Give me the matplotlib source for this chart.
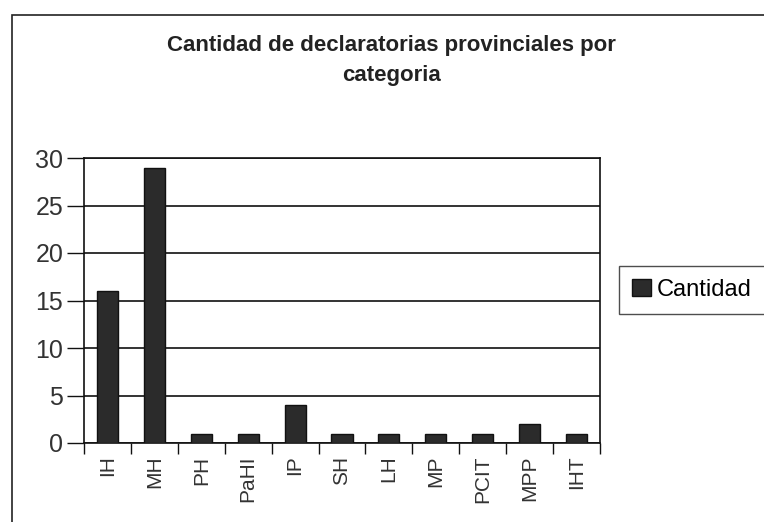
import matplotlib
matplotlib.use("Agg")
import matplotlib.pyplot as plt
from matplotlib.patches import Rectangle

categorias = ["IH", "MH", "PH", "PaHI", "IP", "SH", "LH", "MP", "PCIT", "MPP", "IHT"]
cantidad = [16, 29, 1, 1, 4, 1, 1, 1, 1, 2, 1]
y_ticks = [0, 5, 10, 15, 20, 25, 30]

plt.rcParams['font.family'] = ['Liberation Sans', 'DejaVu Sans']

fig = plt.figure(figsize=(7.64, 5.22), dpi=100)
fig.patch.set_facecolor("white")

# marco del area del grafico
fig.patches.append(Rectangle((12/764, -0.1), 1.2, 1 - 15/522 + 0.1,
                             transform=fig.transFigure, fill=False,
                             edgecolor="#222222", linewidth=1.2))

ax = fig.add_axes([84/764, 1 - 443/522, (600 - 84)/764, (443 - 158)/522])
x = range(len(categorias))
bars = ax.bar(x, cantidad, width=0.45, color="#2b2b2b", edgecolor="#111111",
              linewidth=1, label="Cantidad", zorder=3)

ax.set_xlim(-0.5, len(categorias) - 0.5)
ax.set_ylim(0, 30)
ax.set_yticks(y_ticks)
ax.yaxis.grid(True, color="#111111", linewidth=1.2, zorder=1)
ax.tick_params(axis="y", length=12, width=1, labelsize=18, colors="#111111",
               labelcolor="#333333", pad=3)

ax.set_xticks(list(x))
ax.set_xticklabels(categorias, rotation=90, fontsize=15, color="#333333")
ax.tick_params(axis="x", which="major", length=0, pad=9)
ax.set_xticks([i - 0.5 for i in range(len(categorias) + 1)], minor=True)
ax.tick_params(axis="x", which="minor", length=8, width=1, colors="#111111")

for s in ax.spines.values():
    s.set_color("#111111")
    s.set_linewidth(1.2)
ax.set_facecolor("white")

fig.text(0.512, 1 - 45/522, "Cantidad de declaratorias provinciales por",
         ha="center", va="center", fontsize=16, fontweight="bold",
         color="#222222")
fig.text(0.512, 1 - 76/522, "categoria", ha="center", va="center",
         fontsize=16, fontweight="bold", color="#222222")

leg = fig.legend(handles=[bars], labels=["Cantidad"], loc="center left",
                 bbox_to_anchor=(619/764, 1 - 290/522), frameon=True,
                 fancybox=False, fontsize=17, handlelength=0.8, handleheight=0.7,
                 handletextpad=0.25, borderpad=0.55, borderaxespad=0)
leg.get_frame().set_edgecolor("#222222")
leg.get_frame().set_linewidth(1)

fig.savefig("out.png", dpi=100)
